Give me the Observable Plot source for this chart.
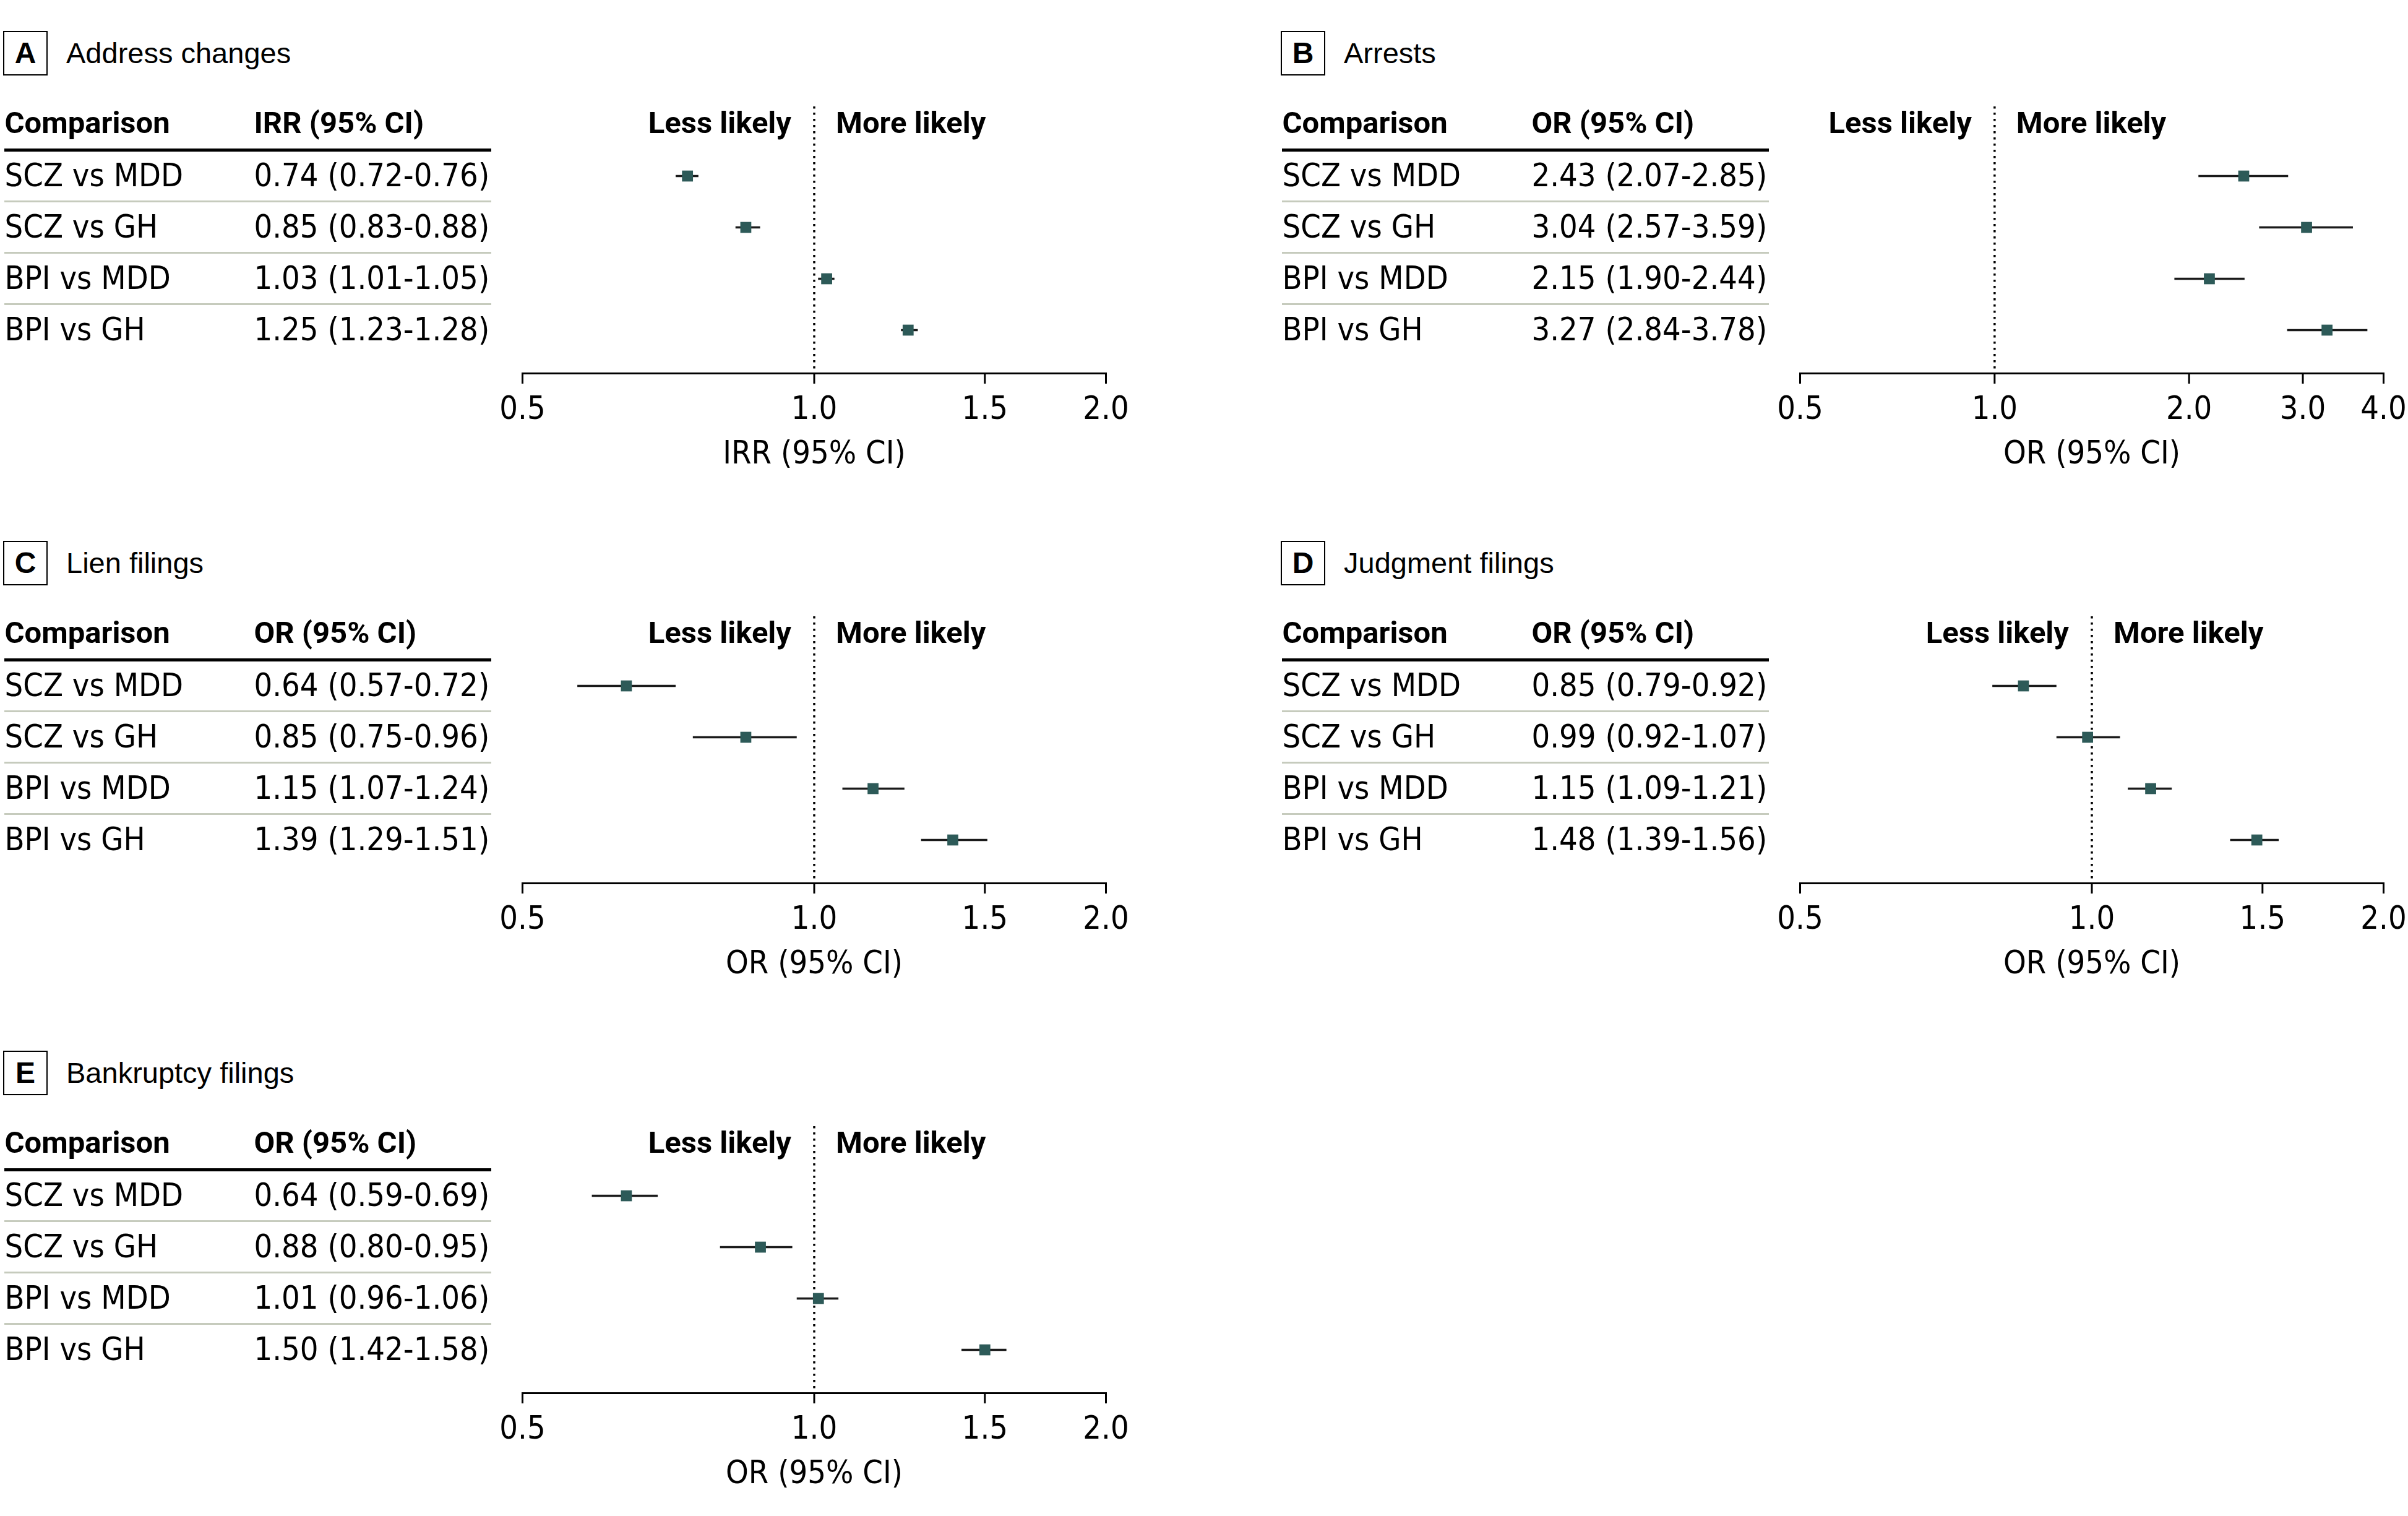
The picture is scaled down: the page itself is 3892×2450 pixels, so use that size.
<!DOCTYPE html>
<html>
<head>
<meta charset="utf-8">
<script src="https://cdn.jsdelivr.net/npm/d3@7"></script>
<script src="https://cdn.jsdelivr.net/npm/@observablehq/plot@0.6"></script>
<style>
  html, body { margin: 0; padding: 0; background: white; }
  #page { position: relative; width: 3892px; height: 2450px; background: white; overflow: hidden; }
  .panel { position: absolute; width: 1827px; height: 790px; }
  .ptitle { position: absolute; left: 0; top: 0; }
  .pbox { position: absolute; left: 5px; top: 50px; width: 68px; height: 68px; border: 2.5px solid #000;
          font-family: "Liberation Sans", Arial, sans-serif; font-weight: bold; font-size: 48px;
          display: flex; align-items: center; justify-content: center; line-height: 1; }
  .ptext { position: absolute; left: 107px; top: 58px; white-space: nowrap;
           font-family: "Liberation Sans", Arial, sans-serif; font-size: 47px; line-height: 56px; }
</style>
</head>
<body>
<div id="page"></div>
<script>
// ---- data ----
const comparisons = ["SCZ vs MDD", "SCZ vs GH", "BPI vs MDD", "BPI vs GH"];
const panelLetters = ["A", "B", "C", "D", "E"];
const panelTitles = ["Address changes", "Arrests", "Lien filings", "Judgment filings", "Bankruptcy filings"];
const measures = ["IRR", "OR", "OR", "OR", "OR"];

const estA = [0.74, 0.85, 1.03, 1.25];
const lowA = [0.72, 0.83, 1.01, 1.23];
const highA = [0.76, 0.88, 1.05, 1.28];

const estB = [2.43, 3.04, 2.15, 3.27];
const lowB = [2.07, 2.57, 1.90, 2.84];
const highB = [2.85, 3.59, 2.44, 3.78];

const estC = [0.64, 0.85, 1.15, 1.39];
const lowC = [0.57, 0.75, 1.07, 1.29];
const highC = [0.72, 0.96, 1.24, 1.51];

const estD = [0.85, 0.99, 1.15, 1.48];
const lowD = [0.79, 0.92, 1.09, 1.39];
const highD = [0.92, 1.07, 1.21, 1.56];

const estE = [0.64, 0.88, 1.01, 1.50];
const lowE = [0.59, 0.80, 0.96, 1.42];
const highE = [0.69, 0.95, 1.06, 1.58];

const ticksNarrow = [0.5, 1.0, 1.5, 2.0];
const ticksWide = [0.5, 1.0, 2.0, 3.0, 4.0];
const domainNarrow = [0.5, 2.0];
const domainWide = [0.5, 4.0];
const nullValue = [1.0];
const sideLabels = ["Less likely", "More likely"];

const panelData = [
  {est: estA, low: lowA, high: highA, ticks: ticksNarrow, domain: domainNarrow},
  {est: estB, low: lowB, high: highB, ticks: ticksWide, domain: domainWide},
  {est: estC, low: lowC, high: highC, ticks: ticksNarrow, domain: domainNarrow},
  {est: estD, low: lowD, high: highD, ticks: ticksNarrow, domain: domainNarrow},
  {est: estE, low: lowE, high: highE, ticks: ticksNarrow, domain: domainNarrow}
];
const panelPos = [[0, 0], [2065, 0], [0, 824], [2065, 824], [0, 1648]];

// ---- drawing ----
const FONT = "'DejaVu Sans Condensed', 'Liberation Sans', sans-serif";
const BOLDFONT = "Roboto, 'DejaVu Sans Condensed', sans-serif";
const FS = 52;
const BFS = 49;
const W = 1827, H = 790, ML = 844, MR = 40, MB = 187;
const page = document.getElementById("page");

panelData.forEach((p, i) => {
  const rows = comparisons.map((c, j) => ({comparison: c, est: p.est[j], lo: p.low[j], hi: p.high[j]}));
  const measure = measures[i];
  const bold = {fontFamily: BOLDFONT, fontWeight: "bold", fontSize: BFS, fill: "#000", lineAnchor: "middle"};
  const chart = Plot.plot({
    width: W, height: H,
    marginLeft: ML, marginRight: MR, marginTop: 0, marginBottom: MB,
    style: {fontFamily: FONT, fontSize: FS + "px", color: "black", background: "white", overflow: "visible"},
    x: {type: "log", domain: p.domain},
    y: {type: "point", domain: comparisons, range: [283, 533], padding: 0, axis: null},
    marks: [
      // header rule and row separators
      Plot.ruleY(rows.slice(0, 1), {y: "comparison", dy: -42, insetLeft: -837, insetRight: 993, stroke: "#000", strokeWidth: 5}),
      Plot.ruleY(rows.slice(0, 3), {y: "comparison", dy: 41, insetLeft: -837, insetRight: 993, stroke: "#c6cbbd", strokeWidth: 3}),
      // table header
      Plot.text(["Comparison"], {text: d => d, frameAnchor: "top-left", dx: -837, dy: 199, textAnchor: "start", ...bold}),
      Plot.text([measure + " (95% CI)"], {text: d => d, frameAnchor: "top-left", dx: -434, dy: 199, textAnchor: "start", ...bold}),
      // table rows
      Plot.text(rows, {y: "comparison", text: "comparison", frameAnchor: "left", dx: -837, textAnchor: "start", lineAnchor: "middle", fontSize: FS, fill: "#000"}),
      Plot.text(rows, {y: "comparison", text: d => `${d.est.toFixed(2)} (${d.lo.toFixed(2)}-${d.hi.toFixed(2)})`, frameAnchor: "left", dx: -434, textAnchor: "start", lineAnchor: "middle", fontSize: FS, fill: "#000"}),
      // less / more likely
      Plot.text(nullValue, {x: d => d, text: () => sideLabels[0], frameAnchor: "top", dy: 199, dx: -37, textAnchor: "end", ...bold}),
      Plot.text(nullValue, {x: d => d, text: () => sideLabels[1], frameAnchor: "top", dy: 199, dx: 35, textAnchor: "start", ...bold}),
      // reference line
      Plot.ruleX(nullValue, {x: d => d, insetTop: 172, stroke: "#000", strokeWidth: 3.5, strokeDasharray: "3.5,6.5"}),
      // CI lines and estimates
      Plot.ruleY(rows, {y: "comparison", x1: "lo", x2: "hi", stroke: "#1a1a1a", strokeWidth: 3.5}),
      Plot.dot(rows, {x: "est", y: "comparison", symbol: "square", r: 10, fill: "#2d5a58", stroke: null}),
      // axis
      Plot.frame({anchor: "bottom", stroke: "#000", strokeWidth: 3}),
      Plot.axisX({ticks: p.ticks, tickFormat: d => d.toFixed(1), tickSize: 17, tickPadding: 20, strokeWidth: 3, fontSize: FS, fill: "#000", label: null}),
      Plot.text([measure + " (95% CI)"], {text: d => d, frameAnchor: "bottom", dy: 129, lineAnchor: "middle", textAnchor: "middle", fontSize: FS, fill: "#000"})
    ]
  });
  const panel = document.createElement("div");
  panel.className = "panel";
  panel.style.left = panelPos[i][0] + "px";
  panel.style.top = panelPos[i][1] + "px";
  panel.appendChild(chart);
  const title = document.createElement("div");
  title.className = "ptitle";
  const box = document.createElement("div");
  box.className = "pbox";
  box.textContent = panelLetters[i];
  const txt = document.createElement("div");
  txt.className = "ptext";
  txt.textContent = panelTitles[i];
  title.appendChild(box);
  title.appendChild(txt);
  panel.appendChild(title);
  page.appendChild(panel);
});
</script>
</body>
</html>
